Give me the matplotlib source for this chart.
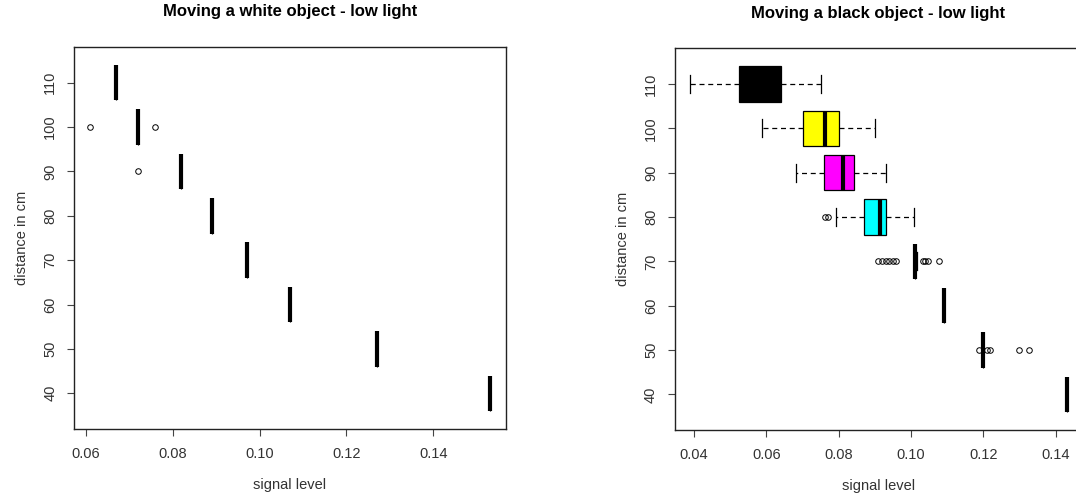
import matplotlib
matplotlib.use("Agg")
import matplotlib.pyplot as plt

plt.rcParams['font.family'] = ['Liberation Sans', 'DejaVu Sans']

# distances (cm) at which the object was measured
distances = [110, 100, 90, 80, 70, 60, 50, 40]

# white object: every reading at a distance is the same value
white_level = [0.067, 0.072, 0.082, 0.089, 0.097, 0.107, 0.127, 0.153]
white_outliers = [[], [0.061, 0.076], [0.072], [], [], [], [], []]

# black object: five-number summaries per distance
black_whislo = [0.039, 0.0589, 0.0681, 0.0792, 0.101, 0.109, 0.120, 0.143]
black_q1 = [0.0524, 0.0701, 0.0761, 0.0871, 0.101, 0.109, 0.120, 0.143]
black_med = [0.0589, 0.0762, 0.0811, 0.0915, 0.101, 0.109, 0.120, 0.143]
black_q3 = [0.0640, 0.0802, 0.0842, 0.0931, 0.101, 0.109, 0.120, 0.143]
black_whishi = [0.0751, 0.0900, 0.0930, 0.1009, 0.1018, 0.109, 0.120, 0.143]
black_outliers = [
    [],
    [],
    [],
    [0.0762, 0.0771],
    [0.0910, 0.0920, 0.0930, 0.0940, 0.0950, 0.0960, 0.1033, 0.1040, 0.1047, 0.1078],
    [],
    [0.1187, 0.1210, 0.1219, 0.1299, 0.1325],
    [],
]
black_colors = ['black', 'yellow', 'magenta', 'cyan', 'red', 'blue', 'green', 'orange']

white_ticks = [0.06, 0.08, 0.10, 0.12, 0.14]
black_ticks = [0.04, 0.06, 0.08, 0.10, 0.12, 0.14]
dist_ticks = [40, 50, 60, 70, 80, 90, 100, 110]

TXT = '#333333'

fig = plt.figure(figsize=(10.76, 4.97), dpi=100)
fig.patch.set_facecolor('white')
ax1 = fig.add_axes([74 / 1076, 68 / 497, 432 / 1076, 382 / 497])
ax2 = fig.add_axes([674.7 / 1076, 67 / 497, 407 / 1076, 381.7 / 497])

common = dict(
    positions=distances, widths=8, orientation='horizontal', patch_artist=True,
    manage_ticks=False,
    boxprops=dict(edgecolor='black', linewidth=0.9),
    whiskerprops=dict(color='black', linewidth=0.9, linestyle=(0, (4, 3))),
    capprops=dict(color='black', linewidth=0.9),
    medianprops=dict(color='black', linewidth=3, solid_capstyle='butt'),
    flierprops=dict(marker='o', markerfacecolor='none', markeredgecolor='black',
                    markersize=4, markeredgewidth=0.7, linestyle='none'),
)

white_stats = [
    dict(med=v, q1=v, q3=v, whislo=v, whishi=v, fliers=o)
    for v, o in zip(white_level, white_outliers)
]
b1 = ax1.bxp(white_stats, **common)
for p in b1['boxes']:
    p.set_facecolor('white')

black_stats = [
    dict(med=m, q1=a, q3=b, whislo=lo, whishi=hi, fliers=o)
    for lo, a, m, b, hi, o in zip(black_whislo, black_q1, black_med, black_q3,
                                  black_whishi, black_outliers)
]
b2 = ax2.bxp(black_stats, **common)
for p, c in zip(b2['boxes'], black_colors):
    p.set_facecolor(c)

def style(ax, xticks, xlim, title):
    ax.set_xlim(*xlim)
    ax.set_ylim(31.95, 118.05)
    ax.set_xticks(xticks)
    ax.set_xticklabels([f"{t:.2f}" for t in xticks])
    ax.set_yticks(dist_ticks)
    ax.set_yticklabels([str(t) for t in dist_ticks], rotation=90, va='center')
    ax.tick_params(axis='both', direction='out', length=5, width=0.8,
                   labelsize=10.5, labelcolor=TXT, color='#444444')
    ax.tick_params(axis='x', pad=8)
    ax.tick_params(axis='y', pad=7)
    for s in ax.spines.values():
        s.set_color('#222222')
        s.set_linewidth(1.0)
    ax.set_xlabel('signal level', fontsize=10.5, color=TXT, labelpad=12)
    ax.set_ylabel('distance in cm', fontsize=10.5, color=TXT, labelpad=10)
    ax.set_title(title, fontsize=12, fontweight='bold', pad=22)

style(ax1, white_ticks, (0.0573, 0.1567), 'Moving a white object - low light')
style(ax2, black_ticks, (0.0347, 0.1472), 'Moving a black object - low light')

fig.savefig('out.png', dpi=100)
